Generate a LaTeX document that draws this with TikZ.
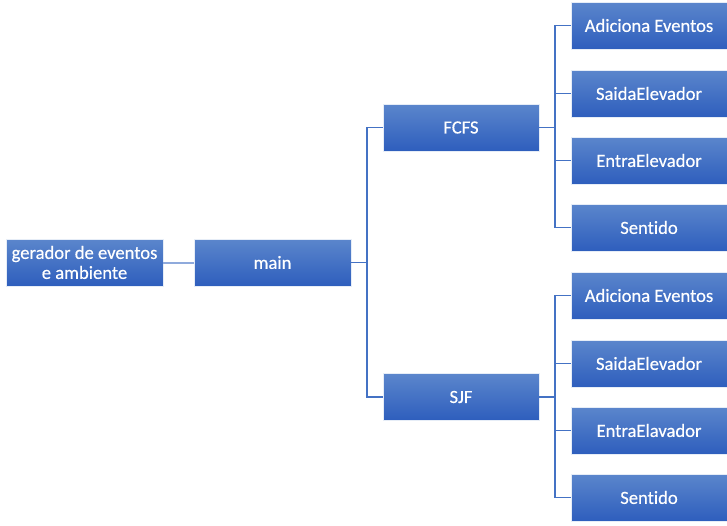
\documentclass[tikz,border=0pt]{standalone}
\usepackage{fontspec}
\setmainfont[Ligatures={NoCommon},FakeBold=0.4]{Carlito}
\definecolor{boxtop}{HTML}{5B86CC}
\definecolor{boxbot}{HTML}{2E5EBD}
\definecolor{conn}{HTML}{4472C4}
\definecolor{connlight}{HTML}{8FAADC}
\begin{document}
\begin{tikzpicture}[x=1pt,y=-1pt,
  box/.style={rectangle, top color=boxtop, bottom color=boxbot, draw=white!85!boxtop, line width=0.6pt,
    minimum width=156pt, minimum height=47pt, inner sep=0pt, text=white, align=center,
    font=\fontsize{18.6}{20}\selectfont},
  link/.style={draw=conn, line width=1.4pt},
  linklight/.style={draw=connlight, line width=2pt}]
\useasboundingbox (0,0) rectangle (727,525);
\node[box, minimum width=157pt] (ger) at (84.5,262.5) {gerador de eventos\\e ambiente};
\node[box, minimum width=157pt] (main) at (272.5,262.5) {main};
\node[box] (fcfs) at (461,127.5) {FCFS};
\node[box] (sjf) at (461,397) {SJF};
\node[box] (f1) at (649,25.5) {Adiciona Eventos};
\node[box] (f2) at (649,93.5) {SaidaElevador};
\node[box] (f3) at (649,160.5) {EntraElevador};
\node[box] (f4) at (649,227.5) {Sentido};
\node[box] (s1) at (649,295.5) {Adiciona Eventos};
\node[box] (s2) at (649,363.5) {SaidaElevador};
\node[box] (s3) at (649,430.5) {EntraElavador};
\node[box] (s4) at (649,497.5) {Sentido};
\coordinate (b1) at (367,0);
\coordinate (b2) at (555,0);
\draw[linklight] (ger.east) -- (main.west);
\foreach \t in {fcfs,sjf}
  \draw[link] (main.east) -- (main.east -| b1) |- (\t.west);
\foreach \t in {f1,f2,f3,f4}
  \draw[link] (fcfs.east) -- (fcfs.east -| b2) |- (\t.west);
\foreach \t in {s1,s2,s3,s4}
  \draw[link] (sjf.east) -- (sjf.east -| b2) |- (\t.west);
\end{tikzpicture}
\end{document}
